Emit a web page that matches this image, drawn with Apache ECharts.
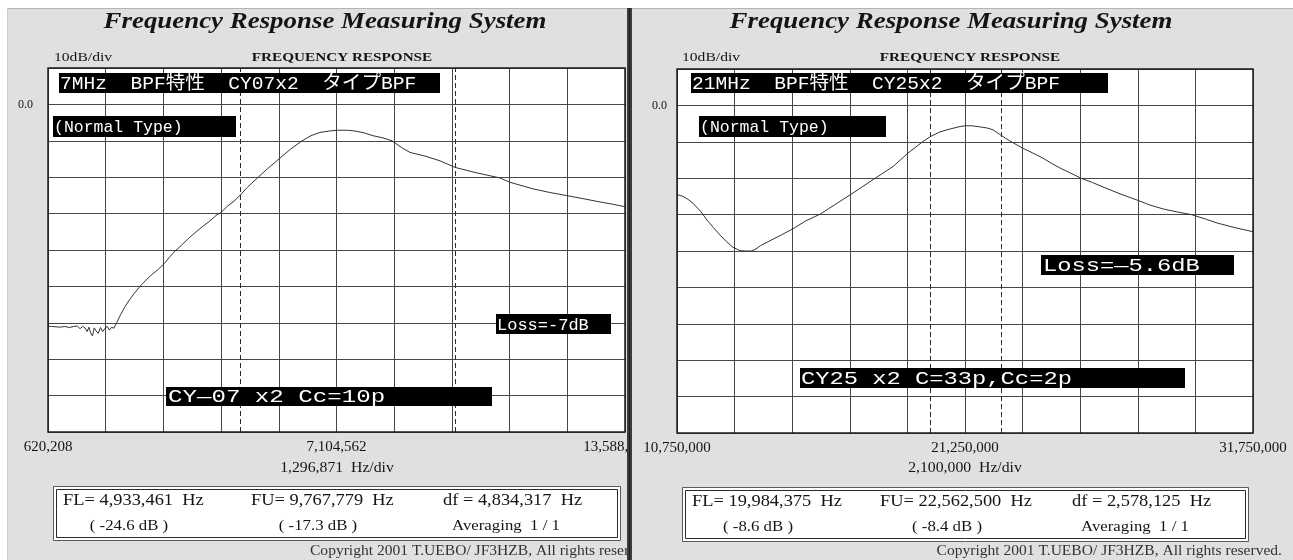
<!DOCTYPE html>
<html><head><meta charset="utf-8">
<script src="https://cdn.jsdelivr.net/npm/echarts@6/dist/echarts.min.js"></script>
<style>
html,body{margin:0;padding:0;background:#fff;width:1293px;height:560px;overflow:hidden;}
.panel{position:absolute;top:8px;height:552px;background:#e0e0e0;border-top:1px solid #b4b4b4;box-sizing:border-box;}
#pl{left:7px;width:620px;border-left:1px solid #cfcfcf;}
#pr{left:632px;width:661px;}
#sep{position:absolute;left:627px;top:8px;width:5px;height:552px;background:#3c3c3c;}
#sep2{position:absolute;left:629px;top:8px;width:1px;height:552px;background:#1a1a1a;}
.chart{position:absolute;top:0;height:560px;}
#left{left:0;width:627px;}
#right{left:632px;width:661px;}
</style></head><body>
<div class="panel" id="pl"></div><div class="panel" id="pr"></div>
<div id="sep"></div><div id="sep2"></div>
<div class="chart" id="left"></div><div class="chart" id="right"></div>
<script>
// ---------------- data: left trace (7 MHz BPF) ----------------
const leftFreqHz = [620000,700000,800000,900000,1000000,1100000,1200000,1280000,1340000,1400000,1450000,1500000,1540000,1580000,1620000,1660000,1700000,1750000,1800000,1850000,1900000,1950000,2000000,2050000,2100000,2164000,2250000,2350000,2450000,2560000,2688000,2820000,2960000,3100000,3227000,3350000,3475000,3620000,3780000,3950000,4100000,4260000,4419000,4509000,4650000,4800000,4935000,5100000,5318000,5560000,5812000,6060000,6329000,6530000,6734000,6950000,7120000,7350000,7520000,7720000,7925000,8150000,8352000,8560000,8757000,9094000,9431000,9768000,10217000,10779000,11004000,11521000,11900000,12301000,12650000,13027000,13300000,13589000];
const leftLevelDb = [-61.0,-61.0,-61.1,-61.2,-61.0,-61.3,-61.0,-60.9,-61.6,-61.0,-61.4,-62.4,-61.2,-62.8,-63.6,-61.4,-62.2,-62.9,-61.3,-62.4,-61.5,-61.0,-62.0,-61.2,-61.5,-60.0,-57.8,-55.6,-53.7,-51.9,-50.0,-48.3,-46.7,-45.3,-43.8,-42.0,-40.3,-38.7,-36.8,-35.0,-33.5,-32.0,-30.3,-29.7,-28.0,-26.6,-25.0,-22.8,-20.3,-17.6,-15.0,-12.4,-10.0,-8.6,-7.7,-7.3,-7.1,-7.1,-7.3,-7.8,-8.6,-9.2,-10.0,-11.8,-13.2,-14.2,-15.5,-17.3,-18.7,-20.2,-21.4,-23.2,-24.2,-25.1,-25.9,-26.8,-27.4,-28.1];
const leftXRangeHz = [620208, 13588918];
const leftXTickLabels = ['620,208', '7,104,562', '13,588,918'];
const leftHzPerDivLabel = '1,296,871  Hz/div';
const leftMarkersHz = [4933461, 9767779];
const leftInfoRow1 = ['FL= 4,933,461  Hz', 'FU= 9,767,779  Hz', 'df = 4,834,317  Hz'];
const leftInfoRow2 = ['( -24.6 dB )', '( -17.3 dB )', 'Averaging  1 / 1'];
const leftNotes = ['7MHz  BPF特性  CY07x2  タイプBPF', '(Normal Type)', 'CY—07 x2 Cc=10p', 'Loss=-7dB'];

// ---------------- data: right trace (21 MHz BPF) ----------------
const rightFreqHz = [10750000,10969000,11150000,11333000,11600000,11844000,12080000,12318000,12550000,12792000,13047000,13250000,13450000,13594000,13800000,14031000,14500000,14979000,15450000,15963000,16500000,17057000,17480000,17896000,18260000,18625000,19172000,19719000,19984000,20300000,20594000,21068000,21250000,21500000,21797000,22050000,22271000,22562000,22890000,23365000,23700000,24094000,24400000,24713000,25100000,25479000,25900000,26281000,26900000,27557000,28000000,28500000,29000000,29500000,30050000,30438000,31100000,31750000];
const rightLevelDb = [-24.5,-25.0,-25.8,-26.9,-29.0,-31.5,-33.6,-35.6,-37.4,-39.0,-39.9,-40.0,-40.0,-39.6,-38.5,-37.6,-35.8,-33.9,-31.7,-29.9,-27.3,-24.6,-22.5,-20.4,-18.6,-16.8,-13.1,-9.9,-8.6,-7.4,-6.7,-5.8,-5.6,-5.6,-5.9,-6.2,-6.7,-8.2,-9.8,-11.8,-13.0,-14.5,-15.9,-17.2,-18.6,-20.0,-21.2,-22.4,-24.3,-26.1,-27.4,-28.5,-29.3,-30.0,-31.3,-32.3,-33.6,-34.7];
const rightXRangeHz = [10750000, 31750000];
const rightXTickLabels = ['10,750,000', '21,250,000', '31,750,000'];
const rightHzPerDivLabel = '2,100,000  Hz/div';
const rightMarkersHz = [19984375, 22562500];
const rightInfoRow1 = ['FL= 19,984,375  Hz', 'FU= 22,562,500  Hz', 'df = 2,578,125  Hz'];
const rightInfoRow2 = ['( -8.6 dB )', '( -8.4 dB )', 'Averaging  1 / 1'];
const rightNotes = ['21MHz  BPF特性  CY25x2  タイプBPF', '(Normal Type)', 'CY25 x2 C=33p,Cc=2p', 'Loss=—5.6dB'];

// shared axis data
const yRangeDb = [-90, 10];
const yStepDb = 10;
const divisions = 10;
const titleText = 'Frequency Response Measuring System';
const copyrightText = 'Copyright 2001 T.UEBO/ JF3HZB, All rights reserved.';

const SERIF = "'Liberation Serif','Times New Roman',serif";
const MONO = "'Liberation Mono','DejaVu Sans Mono','Noto Sans CJK JP',monospace";

function text(x, y, str, st, scaleX) {
  return {
    type: 'text', x: x, y: y, z: 20, silent: true, scaleX: scaleX || 1,
    style: Object.assign({
      text: str, fill: '#141414', fontFamily: SERIF, fontSize: 16,
      textAlign: 'left', align: 'left', textVerticalAlign: 'middle', verticalAlign: 'middle'
    }, st)
  };
}
function note(box, str, size, sx, pad) {
  return [
    {type: 'rect', z: 30, silent: true, shape: {x: box[0], y: box[1], width: box[2], height: box[3]}, style: {fill: '#000'}},
    {type: 'text', z: 31, silent: true, x: box[0] + pad, y: box[1] + box[3] / 2 + 1, scaleX: sx,
     style: {text: str, fill: '#fff', fontFamily: MONO, fontSize: size, textAlign: 'left', align: 'left', textVerticalAlign: 'middle', verticalAlign: 'middle'}}
  ];
}

function build(c) {
  const ox = c.ox;
  const g = c.grid;
  const gl = g.left, gt = g.top, gw = g.width, gh = g.height;
  const els = [];
  els.push(text(c.titleX - ox, 22, titleText, {fontSize: 24, fontWeight: 'bold', fontStyle: 'italic', textAlign: 'center', align: 'center'}, 1.12));
  els.push(text(c.divLabelX - ox, 58, '10dB/div', {fontSize: 13}, 1.2));
  els.push(text(c.respX - ox, 58, 'FREQUENCY RESPONSE', {fontSize: 13, fontWeight: 'bold', textAlign: 'center', align: 'center'}, 1.17));
  els.push(text(c.hzDivX - ox, 468, c.hzDiv, {fontSize: 15, textAlign: 'center', align: 'center'}, 1.05));
  // info box
  const b = c.infoBox;
  els.push({type: 'rect', z: 10, silent: true, shape: {x: b[0] - ox + 0.5, y: b[1] + 0.5, width: b[2], height: b[3]}, style: {fill: '#fff', stroke: '#5a5a5a', lineWidth: 1}});
  els.push({type: 'rect', z: 11, silent: true, shape: {x: b[0] - ox + 3.5, y: b[1] + 3.5, width: b[2] - 6, height: b[3] - 6}, style: {fill: '#fff', stroke: '#2a2a2a', lineWidth: 1}});
  const r1x = [10, 198, 390], r2c = [76, 265, 453];
  c.row1.forEach((s, i) => els.push(text(b[0] - ox + r1x[i], b[1] + 15, s, {fontSize: 16}, 1.15)));
  c.row2.forEach((s, i) => els.push(text(b[0] - ox + r2c[i], b[1] + 40, s, {fontSize: 15, textAlign: 'center', align: 'center'}, 1.12)));
  els.push(text(c.copyX - ox, 551, copyrightText, {fontSize: 14, textAlign: c.copyAlign, align: c.copyAlign, fill: '#333'}, 1.11));
  // notes inside plot
  c.notes.forEach((n) => note([n.box[0] - ox, n.box[1], n.box[2], n.box[3]], n.text, n.size, n.sx, n.pad).forEach(e => els.push(e)));
  // plot frame
  els.push({type: 'rect', z: 25, silent: true, shape: {x: gl, y: gt, width: gw, height: gh}, style: {fill: 'none', stroke: '#1e1e1e', lineWidth: 1.5}});

  const lastPad = c.lastLabelPad;
  return {
    animation: false,
    backgroundColor: 'transparent',
    grid: {left: gl, top: gt, width: gw, height: gh, show: true, backgroundColor: '#fff', borderWidth: 0, containLabel: false, outerBoundsMode: 'none'},
    xAxis: [
      {type: 'value', min: c.xRange[0], max: c.xRange[1], show: false},
      {type: 'value', min: 0, max: divisions, interval: 1, position: 'bottom',
       axisLine: {show: false}, axisTick: {show: false},
       splitLine: {show: true, lineStyle: {color: '#474747', width: 1}},
       axisLabel: {show: true, interval: 0, showMinLabel: true, showMaxLabel: true, margin: 8,
         fontFamily: SERIF, fontSize: 15, color: '#141414',
         rich: {last: {fontFamily: SERIF, fontSize: 15, color: '#141414', padding: [0, lastPad, 0, 0]}},
         formatter: (v) => v === 0 ? c.ticks[0] : v === divisions / 2 ? c.ticks[1] : v === divisions ? (lastPad ? '{last|' + c.ticks[2] + '}' : c.ticks[2]) : ''}}
    ],
    yAxis: {type: 'value', min: yRangeDb[0], max: yRangeDb[1], interval: yStepDb,
      axisLine: {show: false}, axisTick: {show: false},
      splitLine: {show: true, lineStyle: {color: '#474747', width: 1}},
      axisLabel: {margin: c.yMargin, fontFamily: SERIF, fontSize: 12, color: '#141414',
        formatter: (v) => v === 0 ? '0.0' : ''}},
    series: [{
      type: 'line', xAxisIndex: 0, yAxisIndex: 0, showSymbol: false, symbol: 'none', silent: true,
      lineStyle: {color: '#333', width: 1}, z: 5,
      data: c.freq.map((f, i) => [f, c.db[i]]),
      markLine: {silent: true, symbol: ['none', 'none'], label: {show: false},
        lineStyle: {type: [5, 3], color: '#2a2a2a', width: 1},
        data: c.markers.map(m => ({xAxis: m}))}
    }],
    graphic: {elements: els}
  };
}

const leftCfg = {
  ox: 0, grid: {left: 48, top: 68, width: 577, height: 364},
  xRange: leftXRangeHz, freq: leftFreqHz, db: leftLevelDb, markers: leftMarkersHz, ticks: leftXTickLabels, lastLabelPad: 16,
  hzDiv: leftHzPerDivLabel, hzDivX: 337, titleX: 325, divLabelX: 54, respX: 342, yMargin: 15,
  infoBox: [53, 486, 567, 54], row1: leftInfoRow1, row2: leftInfoRow2, copyX: 310, copyAlign: 'left',
  notes: [
    {box: [59, 73, 381, 20], text: leftNotes[0], size: 19, sx: 1.03, pad: 1},
    {box: [53, 116, 183, 21], text: leftNotes[1], size: 17, sx: 0.97, pad: 1},
    {box: [166, 387, 326, 19], text: leftNotes[2], size: 18, sx: 1.34, pad: 2},
    {box: [496, 314, 115, 20], text: leftNotes[3], size: 17, sx: 1.0, pad: 1}
  ]
};
const rightCfg = {
  ox: 632, grid: {left: 45, top: 69, width: 576, height: 364},
  xRange: rightXRangeHz, freq: rightFreqHz, db: rightLevelDb, markers: rightMarkersHz, ticks: rightXTickLabels, lastLabelPad: 0,
  hzDiv: rightHzPerDivLabel, hzDivX: 965, titleX: 951, divLabelX: 682, respX: 970, yMargin: 10,
  infoBox: [682, 487, 566, 54], row1: rightInfoRow1, row2: rightInfoRow2, copyX: 1282, copyAlign: 'right',
  notes: [
    {box: [691, 73, 417, 20], text: rightNotes[0], size: 19, sx: 1.03, pad: 1},
    {box: [699, 116, 187, 21], text: rightNotes[1], size: 17, sx: 0.97, pad: 1},
    {box: [800, 368, 385, 20], text: rightNotes[2], size: 18, sx: 1.32, pad: 1},
    {box: [1041, 255, 193, 20], text: rightNotes[3], size: 18, sx: 1.32, pad: 2}
  ]
};

echarts.init(document.getElementById('left'), null, {renderer: 'canvas'}).setOption(build(leftCfg));
echarts.init(document.getElementById('right'), null, {renderer: 'canvas'}).setOption(build(rightCfg));
</script>
</body></html>
